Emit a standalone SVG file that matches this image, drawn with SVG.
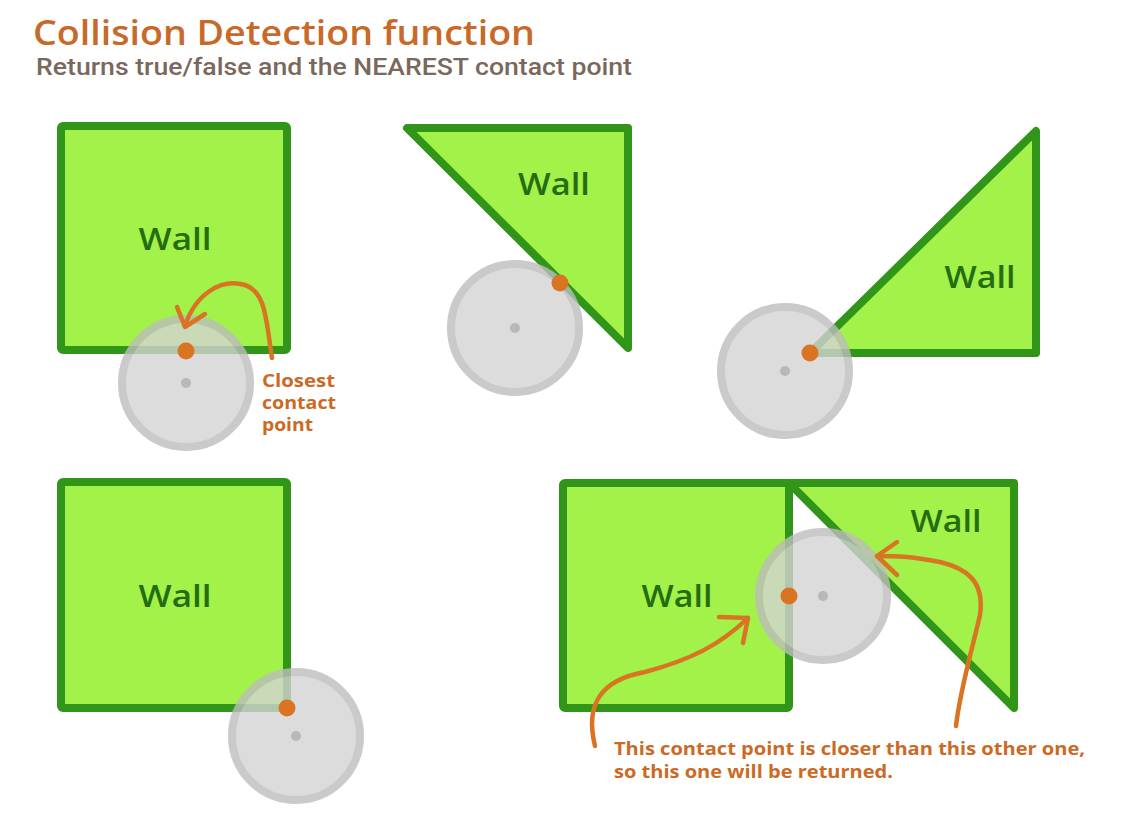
<svg xmlns="http://www.w3.org/2000/svg" width="1137" height="822" viewBox="0 0 1137 822">
<defs>
<style>
.wall{fill:#a2f24a;stroke:#31951a;stroke-width:8;stroke-linejoin:round}
.wt{font-family:"Open Sans",Lato,sans-serif;font-weight:600;font-size:31px;fill:#256d12;text-anchor:middle}
.ball{fill:#d4d4d4;stroke:#bdbdbd;stroke-width:8;opacity:0.8}
.cdot{fill:#b8b8b8}
.hit{fill:#d97423}
.arr{fill:none;stroke:#d97423;stroke-width:4.5;stroke-linecap:round;stroke-linejoin:round}
.lbl{font-family:"Open Sans",Lato,sans-serif;font-weight:bold;font-size:18px;fill:#cc6a25}
</style>
</defs>
<rect width="1137" height="822" fill="#ffffff"/>
<text x="33" y="45" font-family="'Open Sans',Lato,sans-serif" font-weight="600" font-size="35" fill="#c8692a" textLength="502" lengthAdjust="spacingAndGlyphs">Collision Detection function</text>
<text x="36" y="75" font-family="Roboto,'Open Sans',sans-serif" font-weight="500" font-size="23" fill="#7a685c" textLength="596" lengthAdjust="spacingAndGlyphs">Returns true/false and the NEAREST contact point</text>

<g id="wall1">
<rect class="wall" x="61" y="126" width="226" height="224" rx="2"/>
<text class="wt" x="175" y="250" textLength="73" lengthAdjust="spacingAndGlyphs">Wall</text>
</g>
<g id="ball1">
<circle class="ball" cx="186" cy="383" r="64"/>
<circle class="cdot" cx="186" cy="383" r="5"/>
<circle class="hit" cx="186" cy="351" r="8.5"/>
</g>

<g id="wall2">
<polygon class="wall" points="407,128 628,128 628,348"/>
<text class="wt" x="554" y="195" textLength="72" lengthAdjust="spacingAndGlyphs">Wall</text>
</g>
<g id="ball2">
<circle class="ball" cx="515" cy="328" r="64"/>
<circle class="cdot" cx="515" cy="328" r="5"/>
<circle class="hit" cx="560" cy="283" r="8.5"/>
</g>

<g id="wall3">
<polygon class="wall" points="1036,131 1036,353 810,353"/>
<text class="wt" x="980" y="288" textLength="71" lengthAdjust="spacingAndGlyphs">Wall</text>
</g>
<g id="ball3">
<circle class="ball" cx="785" cy="371" r="64"/>
<circle class="cdot" cx="785" cy="371" r="5"/>
<circle class="hit" cx="810" cy="353" r="8.5"/>
</g>

<g id="wall4">
<rect class="wall" x="61" y="482" width="226" height="226" rx="2"/>
<text class="wt" x="175" y="607" textLength="73" lengthAdjust="spacingAndGlyphs">Wall</text>
</g>
<g id="ball4">
<circle class="ball" cx="296" cy="736" r="64"/>
<circle class="cdot" cx="296" cy="736" r="5"/>
<circle class="hit" cx="287" cy="708" r="8.5"/>
</g>

<g id="wall5">
<rect class="wall" x="563" y="483" width="226" height="225" rx="2"/>
<text class="wt" x="677" y="607" textLength="71" lengthAdjust="spacingAndGlyphs">Wall</text>
</g>
<g id="wall6">
<polygon class="wall" points="789,483 1014,483 1014,708"/>
<text class="wt" x="946" y="532" textLength="71" lengthAdjust="spacingAndGlyphs">Wall</text>
</g>
<g id="ball5">
<circle class="ball" cx="823" cy="596" r="64"/>
<circle class="cdot" cx="823" cy="596" r="5"/>
<circle class="hit" cx="789" cy="596" r="8.5"/>
</g>

<g id="connectors">
<path class="arr" d="M272,358 C266,320 266,292 245,285 C220,278 195,295 185,326"/>
<path class="arr" d="M177,307 L185,327 L205,314"/>
<path class="arr" d="M595,746 C585,705 600,680 645,672 C690,660 720,645 748,618"/>
<path class="arr" d="M719,617 L748,618 L743,643"/>
<path class="arr" d="M956,726 C960,690 972,650 980,615 C985,580 965,568 940,562 C910,556 895,556 877,556"/>
<path class="arr" d="M897,542 L877,556 L897,575"/>
</g>

<g id="labels">
<text class="lbl" x="262" y="387" textLength="73" lengthAdjust="spacingAndGlyphs">Closest</text>
<text class="lbl" x="262" y="409" textLength="74" lengthAdjust="spacingAndGlyphs">contact</text>
<text class="lbl" x="262" y="431" textLength="51" lengthAdjust="spacingAndGlyphs">point</text>
<text class="lbl" x="614" y="755" textLength="471" lengthAdjust="spacingAndGlyphs">This contact point is closer than this other one,</text>
<text class="lbl" x="614" y="778" textLength="279" lengthAdjust="spacingAndGlyphs">so this one will be returned.</text>
</g>
</svg>
